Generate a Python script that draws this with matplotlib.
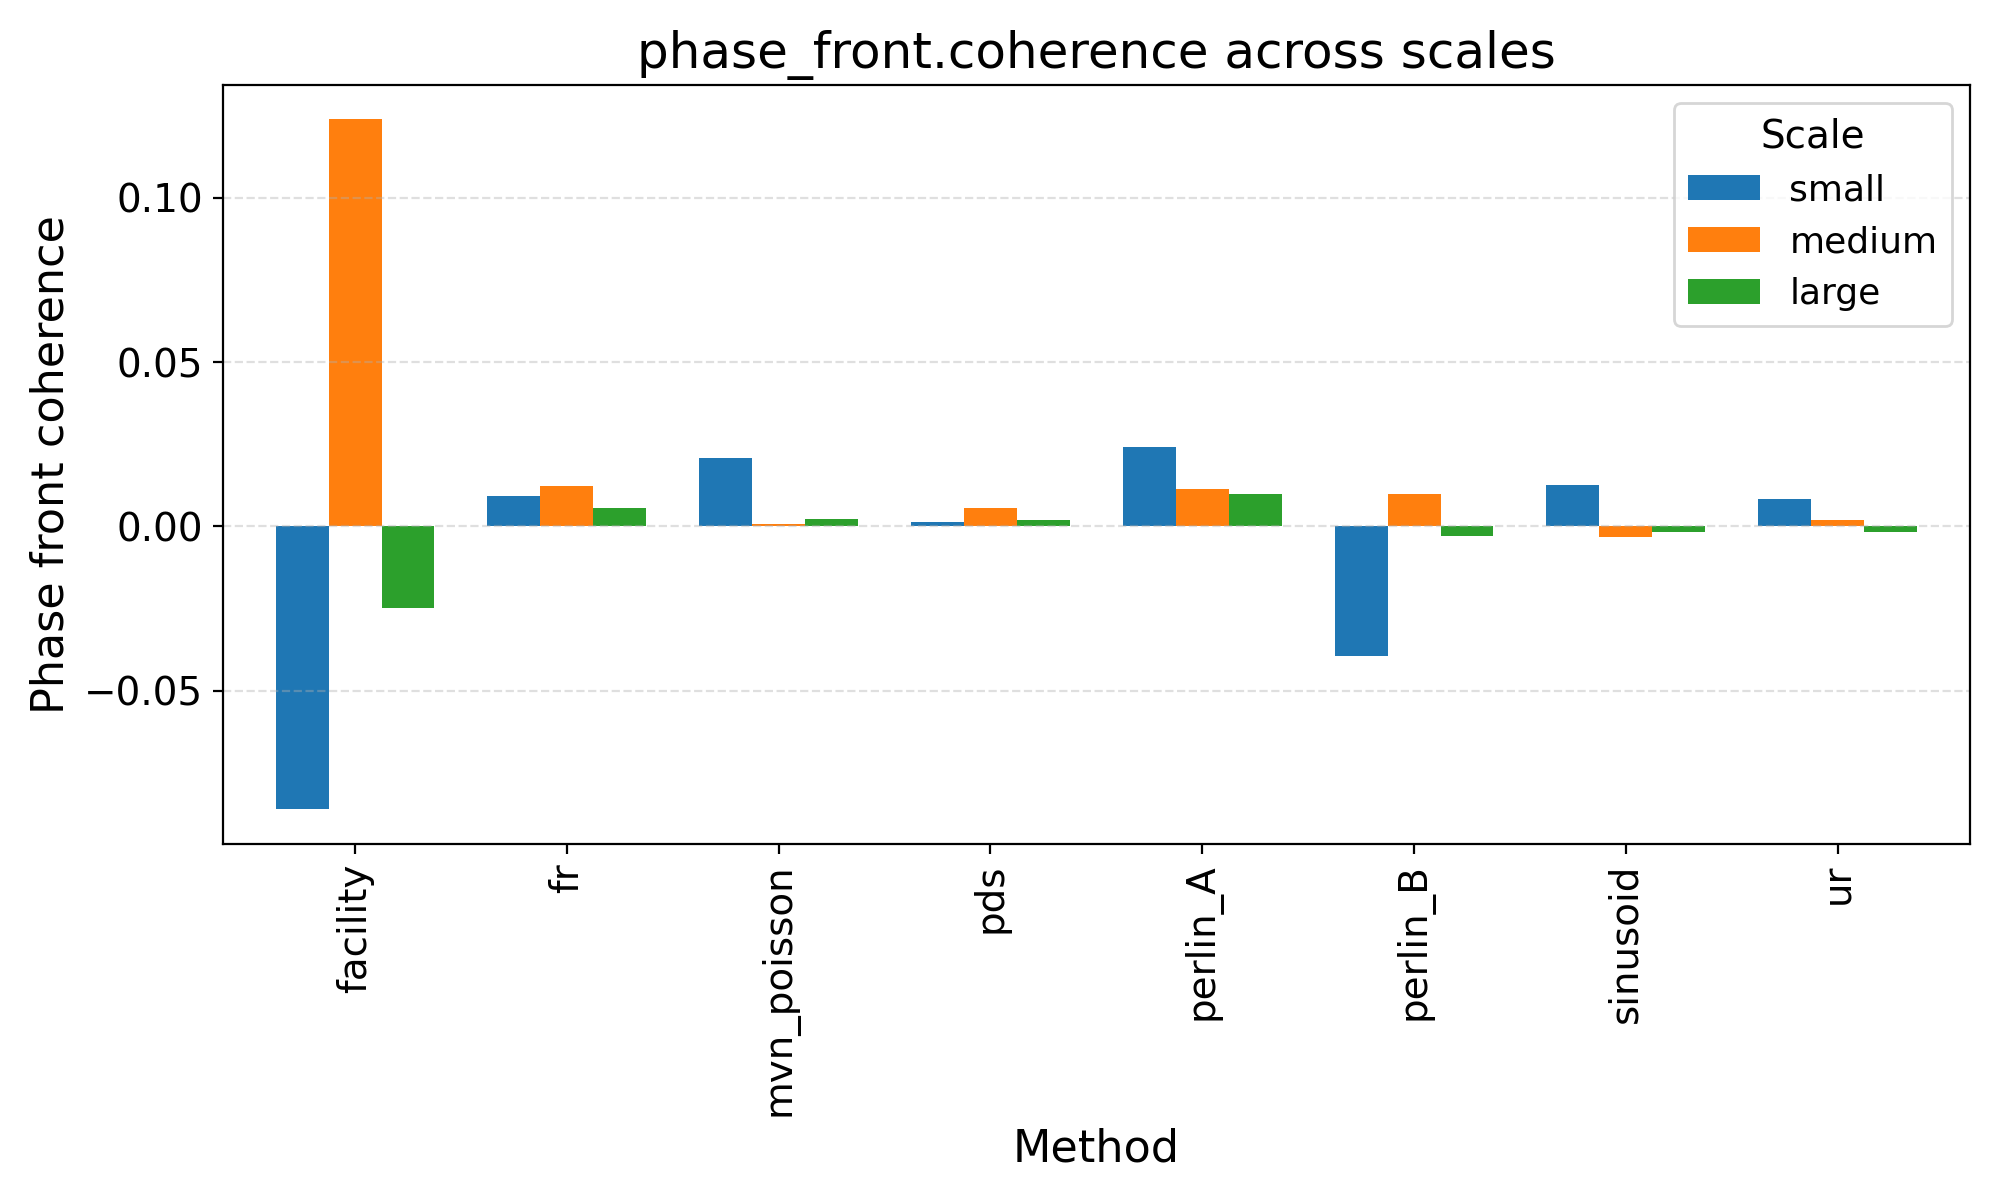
import numpy as np
import matplotlib
matplotlib.use("Agg")
from matplotlib import pyplot as plt

methods = ['facility', 'fr', 'mvn_poisson', 'pds', 'perlin_A', 'perlin_B', 'sinusoid', 'ur']
scales = ['small', 'medium', 'large']
small = [-0.0861, 0.0093, 0.0209, 0.0014, 0.0240, -0.0395, 0.0126, 0.0084]
medium = [0.1239, 0.0124, 0.0008, 0.0057, 0.0115, 0.0099, -0.0033, 0.0020]
large = [-0.0249, 0.0057, 0.0023, 0.0018, 0.0099, -0.0030, -0.0018, -0.0018]
colors = ['#1f77b4', '#ff7f0e', '#2ca02c']

fig, ax = plt.subplots(figsize=(10, 6), dpi=200)
x = np.arange(len(methods))
w = 0.25
for i, (vals, name) in enumerate(zip([small, medium, large], scales)):
    ax.bar(x + (i - 1) * w, vals, w, label=name, color=colors[i])

ax.set_xlim(-0.625, len(methods) - 0.375)
ax.set_xticks(x)
ax.set_xticklabels(methods, rotation=90, fontsize=14)
ax.tick_params(axis='y', labelsize=14)
ax.set_xlabel('Method', fontsize=16)
ax.set_ylabel('Phase front coherence', fontsize=16)
ax.set_title('phase_front.coherence across scales', fontsize=18)
ax.grid(axis='y', linestyle='--', alpha=0.4)
ax.legend(title='Scale', fontsize=13, title_fontsize=14, loc='upper right')
plt.tight_layout()
plt.savefig('out.png')
